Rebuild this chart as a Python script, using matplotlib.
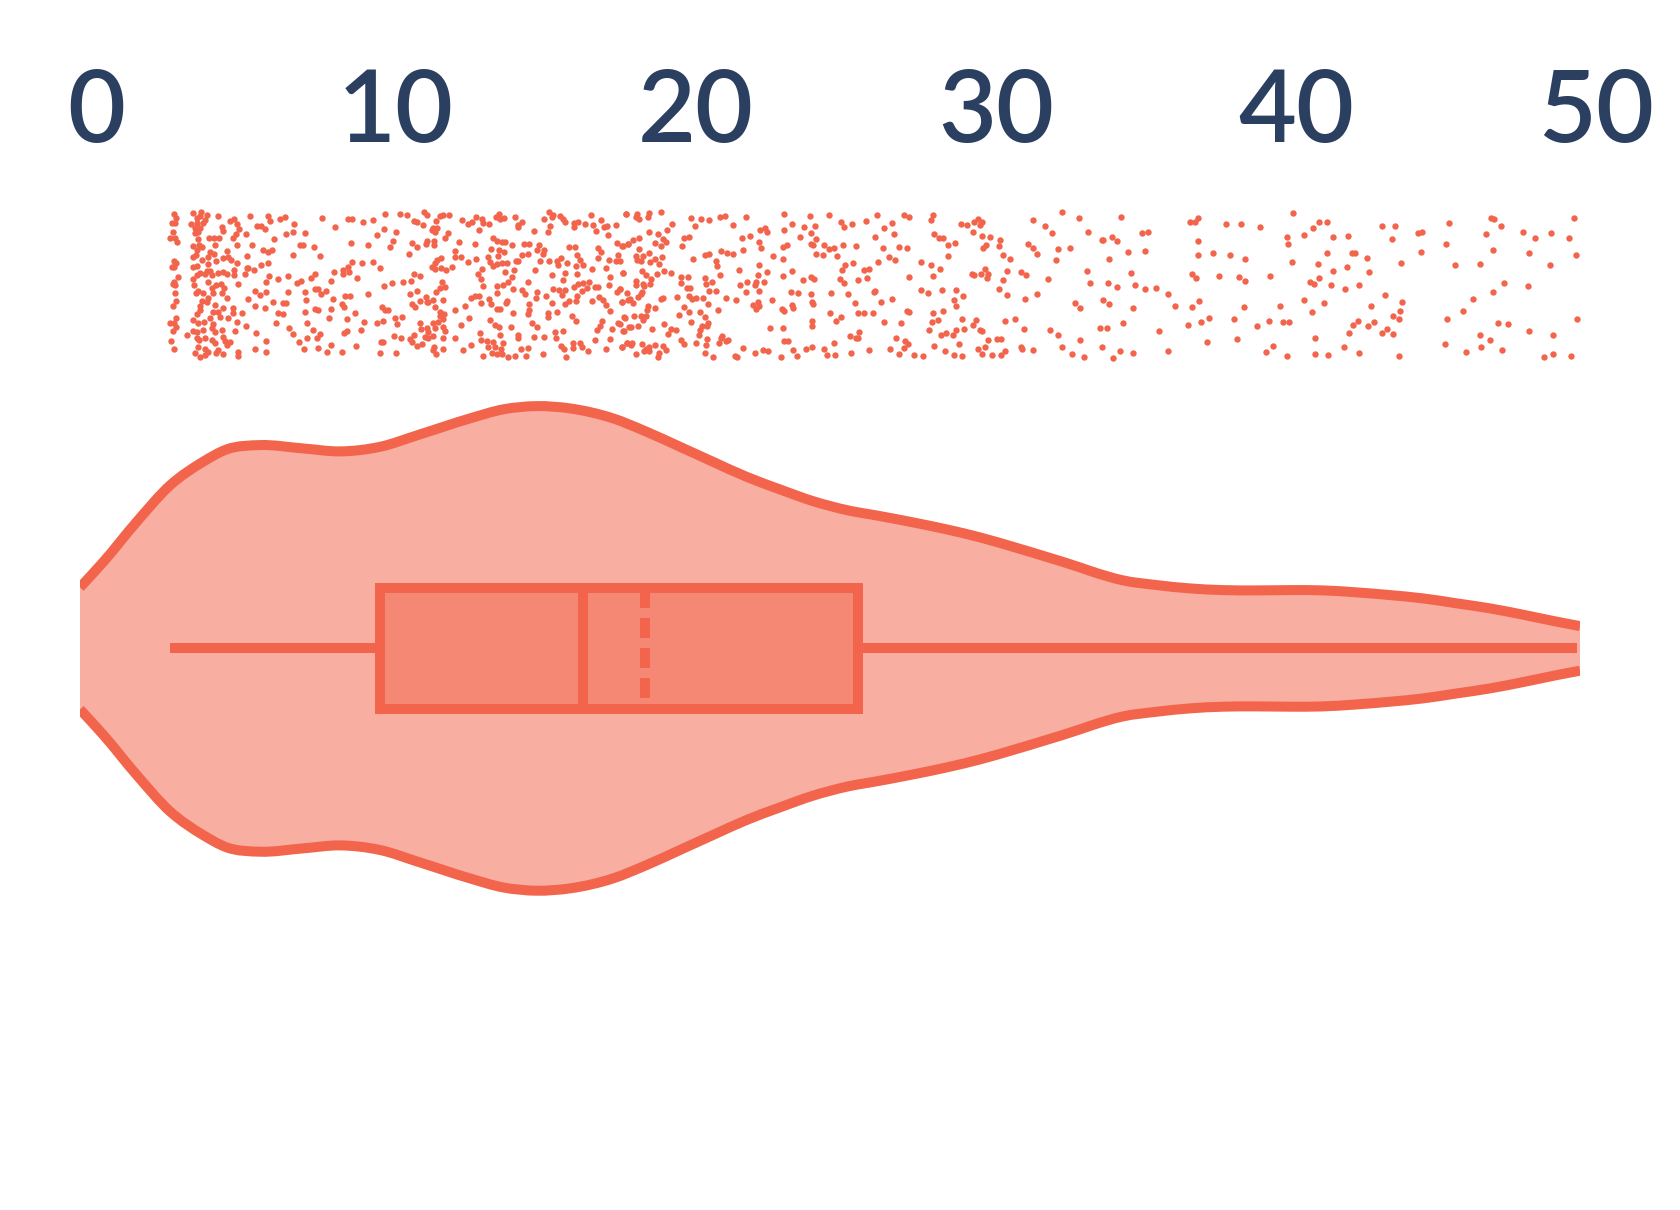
import numpy as np
import matplotlib
matplotlib.use("Agg")
import matplotlib.pyplot as plt
from matplotlib.patches import Rectangle, PathPatch
from matplotlib.path import Path
from matplotlib.transforms import ScaledTranslation

plt.rcParams['font.family'] = ['Lato', 'DejaVu Sans']
plt.rcParams['lines.scale_dashes'] = False

# ---- data ----
tick_values = [0, 10, 20, 30, 40, 50]

whisker_low, q1, median, mean, q3, whisker_high = 3.0, 10.0, 16.76, 18.83, 25.93, 49.9

violin_x = [0, 0.78, 1.89, 3.0, 4.1, 4.89, 6.0, 7.43, 8.67, 10, 11.33, 13, 14.1, 15.22, 16.33, 17.77,
            18.89, 20, 21.1, 22.22, 23.33, 24.43, 25.56, 26.67, 27.77, 28.89, 30, 31.1, 32.22, 33.33,
            33.67, 34.77, 35.9, 37, 38.1, 39.2, 40.33, 41.43, 42.57, 43.67, 44.77, 45.9, 47, 48.1, 49.23, 50]
violin_density = [61, 86.6, 126.6, 163, 186.6, 199, 203.3, 200, 197, 201.6, 214, 230, 239, 242.3, 240, 230,
                  216.6, 201.6, 186.6, 171.6, 159, 147.3, 138.3, 132.3, 126, 119, 111, 101.6, 91.5, 81,
                  77.5, 68, 63.3, 60, 58.3, 58, 58.3, 58, 56, 53.3, 50, 45, 40, 33.7, 26.7, 22.3]

# (value, jitter) for the strip of points
rug_low = [
(3.13,19),(3.20,23),(3.06,28),(3.17,28),(3.11,37),(3.00,43),(3.16,43),(3.22,47),(3.13,66),(3.20,68),(3.05,72),(3.13,72),
(3.27,82),(3.13,87),(3.09,89),(3.17,90),(3.16,98),(3.20,106),(3.09,111),(3.20,123),(3.00,128),(3.13,128),(3.20,132),(3.11,136),(3.03,146),(3.13,154),
(3.77,18),(4.02,17),(4.00,21),(3.89,23),(4.22,20),(4.16,25),(3.69,29),(3.89,28),(4.09,28),(3.83,33),(4.00,33),(3.94,37),(3.83,38),
(4.60,21),(5.00,26),(5.13,24),(5.24,29),(5.30,34),(4.72,32),(4.77,36),(5.20,39),(5.09,43),(5.53,39),
(3.92,44),(4.31,43),(4.46,43),(4.64,43),(4.50,50),(3.77,51),(3.97,50),(3.89,55),(4.08,52),(4.91,56),(5.22,50),(4.33,57),(4.46,59),(4.27,62),(3.77,62),(3.86,60),(4.05,65),(4.53,66),(4.75,63),(4.94,62),(5.02,65),(5.24,68),(5.55,61),
(3.77,72),(3.91,71),(4.27,69),(4.22,76),(4.33,76),(4.00,78),(3.89,80),(3.75,84),(4.16,79),(4.39,80),(4.59,78),(4.75,77),(4.89,79),(5.13,75),(5.13,80),(5.58,73),(5.50,79),(5.80,75),(6.03,70),(6.25,68),
(3.81,90),(4.27,87),(4.53,90),(4.69,89),(4.80,93),(4.41,93),(4.44,98),(3.92,96),(3.86,98),(4.11,98),(4.72,98),(4.91,103),(4.27,103),(4.22,107),(4.05,106),(4.00,111),(4.50,110),(4.77,113),(5.27,89),
(4.00,115),(3.89,119),(3.77,125),(3.94,128),(4.13,127),(4.33,123),(4.44,117),(4.61,117),(4.66,122),(4.44,129),(4.39,133),(4.50,137),(4.72,135),(4.75,142),(5.11,113),(5.09,118),(4.94,123),(5.39,118),(5.22,127),(5.52,131),(5.16,136),(4.11,135),
(3.57,140),(3.75,136),(3.89,137),(3.89,143),(3.97,145),(4.16,143),(4.39,145),(4.50,148),(4.83,146),(5.00,147),(4.91,150),(3.94,152),(4.16,154),(4.27,157),(3.83,158),(4.00,162),(4.16,160),(4.61,155),(4.52,158),(4.75,159),(5.27,157),(5.27,161),
(5.59,104),(5.83,96),(6.00,100),(6.19,97),(5.82,111),(6.16,113),(6.44,107),(6.61,118),(6.77,119),(6.53,128),(6.96,133),(7.11,139),(5.85,138),(6.19,146),(5.82,154),(6.21,157),
(5.66,21),(5.91,31),(6.02,31),(6.16,34),(6.27,21),(6.33,26),(6.66,24),(6.83,22),(7.13,29),(7.11,37),(6.86,39),(6.47,44),(7.50,38),(5.74,50),(6.09,55),(6.27,57),(6.39,55),(7.11,60),(7.33,50),(7.44,50),(7.80,52),(8.00,61),(5.59,73),
(6.31,81),(6.20,87),(6.61,84),(6.94,81),(6.92,97),(6.75,108),(6.86,108),(7.24,88),(7.35,86),(7.69,83),(7.83,79),(7.50,97),(7.53,105),(7.50,117),(7.57,128),(7.75,135),(7.31,147),(7.57,143),(7.89,143),(8.00,139),(7.45,154),(7.92,153),(7.83,114),(7.94,115),(7.83,94),(7.94,94),(8.02,99),(8.19,96),
(8.06,23),(8.50,32),(8.93,24),(9.06,24),(9.42,27),(9.77,25),(10.15,19),(10.13,34),(9.89,40),(10.52,37),(10.42,46),(10.33,52),(10.95,59),(11.05,48),(11.24,52),(9.02,48),(9.60,50),(9.05,67),(9.39,68),(9.75,67),(9.99,73),(8.47,77),(8.36,86),(8.77,75),(8.77,79),(8.92,72),(8.96,77),(9.24,83),
(8.44,104),(8.83,101),(9.00,101),(9.61,99),(8.74,109),(8.80,112),(8.37,114),(8.29,123),(8.89,124),(9.15,118),(9.46,127),(8.79,138),(8.91,136),(9.35,135),(8.37,150),(8.24,157),(8.74,157),(9.19,151),(10.05,112),(10.16,115),(10.27,115),(9.89,128),(10.11,126),(10.50,123),(10.72,122),(10.57,129),(10.45,141),(10.70,143),(10.03,147),(10.11,147),(10.00,158),(10.53,158),
(10.14,91),(10.40,88),(10.75,87),(11.02,86),(11.14,79),(11.34,81),(11.00,99),(11.22,96),(11.05,109),(11.16,112),(11.33,106),
(10.66,19),(10.91,20),(11.14,26),(11.22,27),(11.42,30),(11.46,17),(11.55,20),(11.86,26),(11.77,33),(11.89,33),(11.74,35),(11.83,37),(12.00,21),(12.11,20),(12.31,20),(12.27,38),(12.16,43),(11.55,46),(11.52,49),(11.81,46),(11.81,50),
(12.02,63),(11.91,65),(11.83,68),(11.72,72),(11.83,74),(12.03,73),(12.20,75),(12.39,72),
(12.05,87),(12.16,92),(12.00,93),(11.85,97),(11.52,102),(11.55,107),(11.77,105),(12.09,105),(11.83,112),(11.61,107),
(12.00,117),(12.13,119),(12.00,121),(12.09,124),(11.94,127),(11.77,128),(11.33,128),(11.35,134),(11.55,133),(11.83,133),(11.61,137),(11.50,142),(11.13,140),(11.00,144),(11.05,147),(11.61,143),(11.77,141),(12.11,132),(12.16,136),(12.11,143),(11.22,151),(11.39,149),(11.81,152),(11.77,155),(12.09,154),(11.86,159),
(12.50,143),(12.50,115),(12.83,111),(12.70,130),(12.95,123),(12.75,155),(13.03,150),
(12.74,25),(12.94,29),(13.05,27),(13.20,22),(13.39,24),(13.42,28),(13.64,29),(13.30,35),(13.86,22),(13.97,19),(14.00,24),(14.13,23),(14.50,22),(14.72,27),(14.59,30),(14.59,32),(15.13,36),(15.47,24),(15.64,17),(15.77,20),(15.72,22),(16.00,21),(16.11,24),(16.16,27),(15.66,31),(15.59,37),(16.46,28),(16.61,27),(16.83,29),(17.02,20),(17.11,30),(17.35,25),(17.19,36),(17.55,31),(17.86,30),(17.61,40),(18.20,19),(16.46,32),(17.46,32),
(12.63,47),(13.17,49),(12.51,56),(12.50,62),(12.70,62),(13.20,64),(12.92,67),(13.61,62),(13.69,54),(13.75,43),(13.91,46),(14.05,47),(14.16,47),(14.41,50),(14.80,49),(14.97,49),(13.97,55),(14.14,57),(13.92,61),(13.66,67),(13.75,71),(13.91,69),(14.05,68),(14.24,68),(14.52,66),(14.61,66),(14.72,60),(14.94,59),(15.22,55),(15.30,50),(15.47,55),(15.44,59),(15.33,66),(15.64,66),(15.91,66),(16.02,63),(15.94,70),(16.22,68),(16.31,52),(16.50,52),(16.55,60),(16.66,65),(16.78,70),(16.52,71),(17.28,53),(17.35,57),(17.28,63),(17.64,65),(17.86,66),(18.00,66),(17.94,60),(17.52,73),(17.08,74),(17.89,48),(18.07,51),(18.25,49),
(13.39,74),(13.27,79),(13.36,84),(13.44,91),(14.16,77),(14.46,75),(14.39,82),(14.27,87),(14.11,90),(13.91,91),(13.89,98),(14.44,94),(14.72,95),(14.83,99),(14.92,87),(15.16,75),(15.74,80),(16.16,78),(16.09,85),(16.57,79),(17.66,82),(18.11,78),(16.78,88),(16.46,92),(16.61,89),(16.95,87),(17.16,92),(17.28,92),(17.64,90),(18.00,94),(17.89,97),
(15.77,94),(15.97,95),(16.16,95),(16.05,100),(15.22,97),(15.53,101),(16.91,93),(16.72,96),(16.55,101),(16.53,106),(17.08,106),(17.31,102),(17.42,105),(17.53,110),(17.66,116),(18.07,107),(18.27,105),
(13.02,103),(13.16,101),(13.30,101),(13.35,108),(13.64,104),(13.69,109),(14.24,106),(14.20,108),(13.89,114),(14.00,114),(14.44,118),(14.96,109),(14.95,115),(14.94,119),(15.19,103),(15.74,108),(16.16,109),(16.31,106),(15.89,117),(15.61,118),(15.59,122),(16.41,121),(16.52,126),
(13.66,125),(13.83,130),(13.97,132),(14.35,132),(15.08,128),(15.24,132),(15.83,137),(16.11,136),(15.86,143),(15.47,142),(15.14,142),(14.61,140),(14.59,143),(14.00,140),(13.33,138),(13.37,145),(13.55,146),(13.75,147),(14.09,148),(13.61,152),(13.83,152),(14.02,154),(13.72,158),(13.89,159),(14.05,159),(14.27,162),(14.50,161),(13.44,161),(14.70,154),(14.94,153),(14.86,161),(15.42,159),(16.02,151),(16.14,154),(16.42,148),(16.42,153),(16.66,148),(16.74,152),(16.92,156),(17.53,154),(18.05,152),(18.24,148),(16.20,162),(17.22,135),(17.41,126),(17.33,131),(17.17,145),(17.66,144),(17.72,134),(17.94,128),(18.13,136),(18.16,123),(18.30,132),
]

rug_mid = [
(18.19,19),(18.56,19),(18.52,22),(18.63,24),(18.98,18),(18.94,22),(19.36,17),(19.73,29),(20.38,23),(20.71,24),(20.97,25),(20.50,31),(21.33,22),(21.49,21),(22.20,22),(21.77,30),(23.46,19),(24.33,21),(24.96,20),(25.37,27),(25.48,32),(25.74,29),(26.20,26),(26.57,20),(27.46,20),(27.63,22),(28.43,20),(28.37,25),(29.36,29),(29.58,30),(29.79,27),(29.93,24),(30.06,27),(30.01,30),(31.76,25),(32.17,31),(32.74,17),(33.29,23),
(18.96,37),(19.27,39),(19.58,35),(22.67,35),(22.84,33),(22.91,37),(23.48,35),(23.73,29),(24.14,32),(24.49,31),(24.37,38),(26.81,33),(27.07,28),(27.14,39),(29.77,37),(32.41,38),(33.61,37),
(18.09,51),(18.28,49),(18.42,45),(18.62,43),(19.16,48),(19.42,44),(19.53,47),(19.36,51),(18.64,54),(20.06,51),(20.14,43),(20.30,42),(22.07,43),(22.33,41),(22.63,47),(22.69,53),(22.11,55),(23.44,52),(23.58,50),(24.01,42),(24.54,44),(24.36,49),(24.44,50),(24.81,50),(24.97,54),(25.13,53),(25.43,50),(25.88,51),(26.49,42),(26.76,53),(27.30,52),(27.57,53),(28.48,39),(28.64,43),(28.78,43),(28.93,50),(29.16,48),(30.07,41),(30.32,42),(30.68,45),(30.63,51),(30.19,50),(30.09,53),(31.60,49),(31.77,53),(31.91,59),(32.61,54),(33.01,53),
(18.98,58),(18.54,61),(18.77,61),(19.41,62),(19.16,64),(19.01,67),(18.56,65),(18.69,66),(19.30,69),(20.42,64),(20.82,60),(20.96,59),(21.38,56),(21.58,58),(21.76,59),(21.20,66),(21.22,71),(23.10,61),(23.44,64),(24.52,59),(24.77,60),(25.23,61),(26.96,62),(27.16,65),(26.61,67),(25.78,68),(25.50,70),(28.93,61),(28.03,67),(28.36,70),(28.66,74),(30.76,60),(31.01,64),(32.53,65),(33.57,76),
(18.11,78),(18.74,76),(18.87,80),(19.47,76),(19.69,78),(19.23,79),(19.02,84),(20.02,82),(20.27,82),(20.83,83),(21.98,75),(22.64,70),(22.61,80),(22.89,77),(21.34,80),(23.73,76),(23.44,81),(24.37,82),(24.47,84),(25.39,75),(26.13,75),(26.31,74),(26.23,83),(25.33,84),(25.48,88),(25.94,85),(24.11,85),(27.63,82),(28.44,81),(29.74,79),(29.81,80),(30.03,79),(30.16,74),(30.28,79),(30.24,83),(30.89,76),(31.37,77),(31.52,80),(30.77,85),(32.28,84),
(18.52,86),(18.53,90),(18.76,89),(18.81,91),(19.01,89),(20.02,88),(20.86,89),(21.06,87),(20.22,93),(20.34,93),(22.01,90),(22.23,87),(22.53,87),(22.49,90),(22.81,87),(20.96,96),(21.21,96),(22.20,97),(22.64,96),(23.69,97),(23.93,98),(24.36,99),(25.03,98),(25.60,99),(26.50,96),(26.47,97),(28.04,95),(28.28,98),(28.73,95),(29.21,95),(29.44,101),(30.64,94),(30.91,100),(31.89,99),(33.67,88),
(18.00,94),(18.24,98),(18.72,97),(18.69,99),(18.61,102),(18.33,104),(18.44,108),(18.08,107),(19.38,104),(19.43,103),(19.91,102),(20.30,101),(20.40,104),(20.54,103),(20.76,103),(21.53,103),(21.87,105),(20.94,109),(23.06,105),(22.61,107),(22.44,110),(22.64,111),(22.53,114),(23.74,110),(23.77,113),(24.40,107),(24.44,109),(25.84,108),(26.69,107),(27.08,104),(29.13,105),(29.21,111),(31.50,104),(33.17,108),(33.32,113),
(18.92,111),(18.89,115),(19.17,113),(20.12,112),(20.29,117),(21.26,115),(23.40,114),(23.46,116),(20.66,117),(19.98,120),(20.83,122),(18.48,121),(18.69,121),(18.86,121),(18.78,125),(18.13,122),(25.00,118),(25.36,122),(25.19,126),(25.94,118),(26.14,118),(26.44,118),(27.56,116),(27.62,117),(28.44,118),(28.76,116),(28.61,125),(28.39,127),(29.41,124),(29.86,125),(29.78,130),(30.83,126),(31.17,124),
(18.00,129),(19.47,129),(20.38,127),(20.93,128),(20.73,131),(20.90,131),(24.40,126),(24.40,131),(26.80,127),(27.38,128),(23.00,133),(23.42,133),(18.61,131),(18.37,132),(18.11,136),(19.07,134),(19.69,134),(19.88,135),(19.59,139),(20.67,135),(20.63,140),(28.29,135),(29.19,135),(29.47,134),(30.00,135),(30.07,136),(31.47,134),(32.32,135),(32.59,140),
(18.22,148),(18.39,148),(18.37,150),(18.72,149),(19.17,150),(19.44,151),(19.54,155),(18.06,152),(18.87,154),(18.97,152),(18.81,156),(18.97,156),(18.53,159),(19.31,158),(19.27,162),(20.03,145),(20.13,149),(20.53,148),(20.91,144),(20.86,150),(21.41,141),(21.29,148),(21.37,143),(21.61,145),(21.52,146),(25.66,141),(25.96,137),(25.87,143),(25.94,143),(27.20,143),(28.70,140),(28.87,138),(29.09,140),(30.27,145),(30.57,144),(30.69,144),(23.46,146),(23.60,146),(25.13,148),(27.50,146),(27.59,149),(29.29,149),(28.47,151),
(20.82,158),(21.10,162),(21.83,161),(21.89,162),(22.09,153),(22.51,158),(22.78,155),(22.92,156),(23.38,162),(23.76,155),(23.91,161),(24.19,154),(24.39,152),(24.79,154),(24.91,160),(25.16,160),(25.71,158),(26.29,155),(26.99,154),(27.46,153),(27.31,159),(27.81,160),(28.10,161),(28.82,156),(29.13,160),(29.39,161),(29.93,154),(30.16,152),(30.07,159),(30.41,160),(30.70,160),(30.84,156),(31.37,152),(31.40,154),(31.77,155),(32.74,152),(33.07,159),(33.48,162),(33.33,145),
]

rug_high = [
(34.69,22),(34.07,45),(34.09,45),(34.40,42),(34.56,46),(35.40,38),(35.60,37),(34.94,57),(35.50,56),(34.29,64),(35.03,78),(34.26,88),(34.58,92),(35.17,90),(35.50,94),(35.88,93),(36.27,99),
(34.09,105),(34.31,109),(35.09,113),(36.50,111),(34.76,128),(34.00,133),(34.24,133),(35.96,136),(34.06,152),(34.67,156),(34.43,163),(35.10,158),(36.26,156),
(37.00,27),(37.18,27),(37.27,23),(38.21,29),(38.71,29),(39.32,32),(37.26,46),(37.28,60),(37.76,58),(38.33,60),(38.84,64),(37.06,79),(37.19,83),(37.96,81),(38.63,82),(38.82,86),
(37.29,106),(37.08,112),(38.80,112),(37.64,123),(37.36,127),(36.92,130),(38.48,124),(37.57,147),(38.57,144),
(40.42,18),(41.29,27),(41.56,27),(41.10,33),(40.22,42),(40.81,40),(41.76,42),(42.27,41),(40.27,49),(41.58,58),(42.39,58),(42.51,58),(42.91,63),(40.41,67),(41.26,69),(42.23,72),(44.02,68),
(41.78,76),(42.96,77),(39.67,81),(41.31,83),(41.01,87),(41.14,89),(41.71,90),(42.17,94),(42.64,90),(43.50,100),(40.81,105),(41.47,108),(40.00,111),(43.04,111),(44.08,107),(41.07,117),(43.99,116),
(43.75,121),(43.98,124),(39.62,126),(40.09,127),(40.31,127),(39.22,131),(42.60,126),(42.42,130),(43.12,127),(42.93,131),(42.29,138),(43.56,134),(43.41,138),(43.75,139),(41.18,143),(39.76,151),
(39.53,157),(40.23,161),(41.18,159),(41.60,160),(42.14,152),(42.64,158),(43.98,161),
(43.40,31),(43.82,31),(43.72,44),(44.59,38),(44.72,37),(45.62,28),(45.54,49),(44.69,57),(45.82,70),(46.68,69),
(47.04,23),(47.12,24),(47.38,31),(46.88,39),(47.10,55),(47.46,88),(47.09,97),(46.43,104),(46.10,116),(45.56,124),(47.27,128),(47.60,129),(46.67,140),(47.00,145),(45.50,149),(46.71,152),(46.20,157),(47.40,155),
(48.09,37),(48.51,43),(49.03,38),(49.63,43),(49.79,23),(48.29,58),(49.88,60),(49.00,70),(48.28,91),(49.91,124),(48.29,136),(49.11,140),(48.80,162),(49.10,159),(49.70,161),
]

# ---- style ----
stroke = '#F2644B'
ink = '#2B3F61'
W, H = 1680, 1210
LW = 10 * 72 / 100   # 10 px at 100 dpi

fig = plt.figure(figsize=(W / 100, H / 100), dpi=100, facecolor='white')
x_left, x_right = 80, 1580

def add_axes(top, bottom):
    return fig.add_axes([x_left / W, 1 - bottom / H, (x_right - x_left) / W, (bottom - top) / H])

def curve_segments(x, y):
    """Bezier segments passing through the read points (smooth drawing of the outline)."""
    t = np.gradient(y, x)
    verts, codes = [], []
    for i in range(len(x) - 1):
        d = (x[i + 1] - x[i]) / 3
        verts += [(x[i] + d, y[i] + t[i] * d), (x[i + 1] - d, y[i + 1] - t[i + 1] * d), (x[i + 1], y[i + 1])]
        codes += [Path.CURVE4] * 3
    return verts, codes

# strip of points, with the value axis labels on top
ax_rug = add_axes(195, 370)
ax_rug.set_xlim(0, 50)
ax_rug.set_ylim(175, 0)
pts = np.array(rug_low + rug_mid + rug_high)
ax_rug.scatter(pts[:, 0], pts[:, 1], s=21, color=stroke, linewidths=0, clip_on=False)
ax_rug.xaxis.tick_top()
ax_rug.set_xticks(tick_values)
ax_rug.set_xticklabels([str(t) for t in tick_values], fontsize=72, color=ink, fontweight='semibold')
ax_rug.tick_params(axis='x', length=0, pad=26)
ax_rug.set_yticks([])
for s in ax_rug.spines.values():
    s.set_visible(False)
shift = ScaledTranslation(16 / 100, 0, fig.dpi_scale_trans)
for lab in ax_rug.get_xticklabels():
    lab.set_transform(lab.get_transform() + shift)

# violin + box
ax_v = add_axes(368.4, 928.4)
ax_v.set_xlim(0, 50)
ax_v.set_ylim(-280, 280)
ax_v.axis('off')
vx = np.array(violin_x, dtype=float)
vd = np.array(violin_density, dtype=float)

top_v, top_c = curve_segments(vx, vd)
bot_v, bot_c = curve_segments(vx, -vd)
top_path = Path([(vx[0], vd[0])] + top_v, [Path.MOVETO] + top_c)
bot_path = Path([(vx[0], -vd[0])] + bot_v, [Path.MOVETO] + bot_c)
back_v, back_c = curve_segments(vx[::-1], -vd[::-1])
fill_path = Path([(vx[0], vd[0])] + top_v + [(vx[-1], -vd[-1])] + back_v + [(vx[0], vd[0])],
                 [Path.MOVETO] + top_c + [Path.LINETO] + back_c + [Path.CLOSEPOLY])
ax_v.add_patch(PathPatch(fill_path, facecolor=stroke, alpha=0.52, edgecolor='none', zorder=1))
for p in (top_path, bot_path):
    ax_v.add_patch(PathPatch(p, facecolor='none', edgecolor=stroke, lw=LW, capstyle='butt', zorder=2))

box_half = 60.5
ax_v.plot([whisker_low, q1], [0, 0], color=stroke, lw=LW, solid_capstyle='butt', zorder=3)
ax_v.plot([q3, whisker_high], [0, 0], color=stroke, lw=LW, solid_capstyle='butt', zorder=3)
ax_v.add_patch(Rectangle((q1, -box_half), q3 - q1, 2 * box_half, facecolor=stroke, alpha=0.5,
                         edgecolor='none', zorder=3))
ax_v.add_patch(Rectangle((q1, -box_half), q3 - q1, 2 * box_half, facecolor='none', edgecolor=stroke,
                         lw=LW, joinstyle='miter', zorder=4))
ax_v.plot([median, median], [-box_half, box_half], color=stroke, lw=LW, solid_capstyle='butt', zorder=4)
ax_v.plot([mean, mean], [box_half, -box_half], color=stroke, lw=LW, dash_capstyle='butt',
          linestyle=(0, (14.4, 7.2)), zorder=4)

fig.savefig('out.png', dpi=100, facecolor='white')
